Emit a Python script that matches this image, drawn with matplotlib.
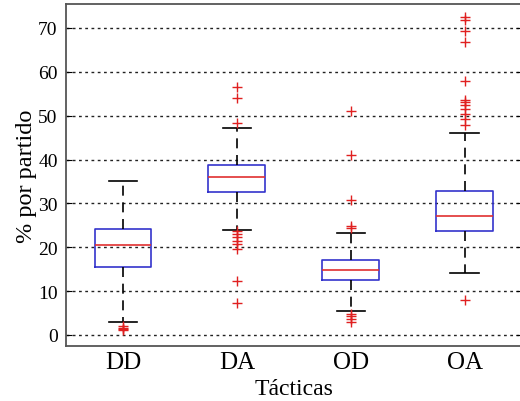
import matplotlib
matplotlib.use("Agg")
import matplotlib.pyplot as plt

plt.rcParams['font.family'] = ['Liberation Serif', 'DejaVu Serif']

tacticas = ['DD', 'DA', 'OD', 'OA']
# estadisticos: [bigote inf, q1, mediana, q3, bigote sup]
dd_stats = [3.0, 15.5, 20.4, 24.2, 35.2]
da_stats = [23.9, 32.6, 36.0, 38.8, 47.3]
od_stats = [5.5, 12.5, 14.9, 17.2, 23.3]
oa_stats = [14.1, 23.6, 27.1, 32.8, 46.1]

dd_out = [2.1, 1.6, 1.3, 1.1]
da_out = [48.4, 54.0, 56.5, 23.6, 23.0, 22.3, 21.5, 20.7, 19.6, 12.2, 7.3]
od_out = [24.9, 24.5, 30.8, 41.0, 51.0, 4.8, 4.3, 3.6, 3.0]
oa_out = [47.9, 49.2, 50.4, 51.5, 52.4, 53.2, 53.5, 57.8, 66.7, 69.4, 71.9, 72.4, 8.0]

yticks = [0, 10, 20, 30, 40, 50, 60, 70]

stats = []
for name, s, o in zip(tacticas, [dd_stats, da_stats, od_stats, oa_stats],
                      [dd_out, da_out, od_out, oa_out]):
    stats.append({'label': name, 'whislo': s[0], 'q1': s[1], 'med': s[2],
                  'q3': s[3], 'whishi': s[4], 'fliers': o})

fig = plt.figure(figsize=(5.2, 4.02), dpi=100)
ax = fig.add_axes([0.127, 0.137, 0.876, 0.851])

ax.bxp(stats, positions=[1, 2, 3, 4], widths=0.5,
       boxprops=dict(color='#3333cc', linewidth=1.2),
       medianprops=dict(color='#e03030', linewidth=1.2),
       whiskerprops=dict(color='black', linestyle=(0, (6, 4)), linewidth=1.2),
       capprops=dict(color='black', linewidth=1.2),
       flierprops=dict(marker='+', markeredgecolor='#e02020', markersize=7,
                       markeredgewidth=1.0, linestyle='none'),
       capwidths=0.25)

ax.set_xlim(0.5, 4.5)
ax.set_ylim(-2.5, 75.5)
ax.set_yticks(yticks)
ax.yaxis.grid(True, color='#222222', linestyle=(0, (2, 2.5)), linewidth=1.0)
ax.set_axisbelow(True)

ax.tick_params(axis='y', direction='in', right=True, labelsize=14, length=4, pad=6)
ax.tick_params(axis='x', direction='in', length=0, labelsize=18, pad=4)
for sp in ax.spines.values():
    sp.set_color('#555555')
    sp.set_linewidth(1.3)

ax.set_xlabel('Tácticas', fontsize=17, labelpad=3)
ax.set_ylabel('% por partido', fontsize=17.5, labelpad=1)

fig.savefig('out.png', dpi=100)
